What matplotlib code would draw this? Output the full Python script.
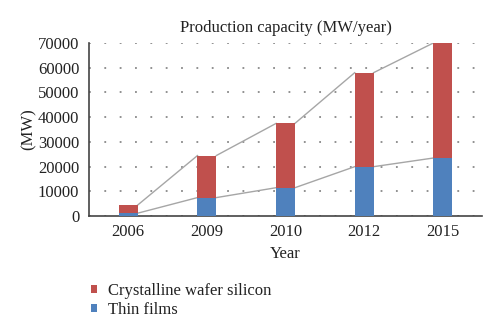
import matplotlib
matplotlib.use("Agg")
import matplotlib.pyplot as plt
import numpy as np

years = ["2006", "2009", "2010", "2012", "2015"]
thin_films = [1200, 7500, 11500, 20000, 23500]
crystalline = [3300, 17000, 26000, 38000, 46500]

red = "#C0504D"
blue = "#4F81BD"

plt.rcParams['font.family'] = ['Liberation Serif', 'DejaVu Serif']

fig = plt.figure(figsize=(5.0, 3.31), dpi=100)
ax = fig.add_axes([0.178, 0.347, 0.786, 0.523])

x = np.arange(len(years))
w = 0.24
ax.bar(x, thin_films, width=w, color=blue, zorder=3, label="Thin films")
ax.bar(x, crystalline, width=w, bottom=thin_films, color=red, zorder=3,
       label="Crystalline wafer silicon")

totals = np.array(thin_films) + np.array(crystalline)
for series in (np.array(thin_films), totals):
    for i in range(len(years) - 1):
        ax.plot([x[i] + w / 2, x[i + 1] - w / 2], [series[i], series[i + 1]],
                color="#A6A6A6", lw=1.0, zorder=2)

ax.set_xlim(-0.5, 4.5)
ax.set_ylim(0, 70000)
ax.set_yticks(range(0, 70001, 10000))
ax.set_xticks(x)
ax.set_xticklabels(years)
ax.tick_params(axis='both', length=0, labelsize=12, colors="#222222")
ax.tick_params(axis='y', pad=7)
ax.tick_params(axis='x', pad=6)
ax.yaxis.grid(True, linestyle=(0, (1, 7.5)), color="#888888", lw=1.3, zorder=0)
ax.set_axisbelow(True)
for s in ("top", "right"):
    ax.spines[s].set_visible(False)
for s in ("left", "bottom"):
    ax.spines[s].set_color("#444444")
    ax.spines[s].set_linewidth(1.2)

ax.set_title("Production capacity (MW/year)", fontsize=12, pad=8, color="#222222")
ax.set_xlabel("Year", fontsize=12, color="#222222", labelpad=4)
ax.set_ylabel("(MW)", fontsize=12, color="#222222", labelpad=1)

handles, labels = ax.get_legend_handles_labels()
leg = fig.legend(handles[::-1], labels[::-1], loc="upper left",
                 bbox_to_anchor=(0.152, 0.19), frameon=False, fontsize=12,
                 handlelength=0.35, handleheight=0.35, handletextpad=0.7,
                 labelspacing=0.15)
for t in leg.get_texts():
    t.set_color("#222222")

fig.savefig("out.png", dpi=100)
